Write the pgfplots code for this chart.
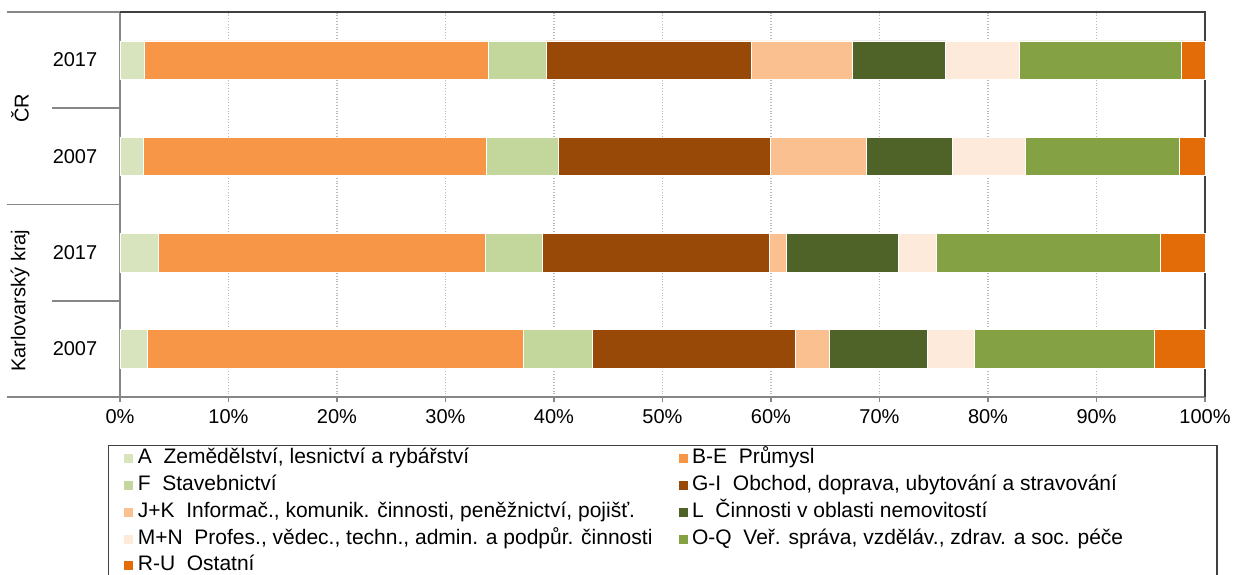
\documentclass[border=0pt]{standalone}
\usepackage{fontspec}
\setmainfont{Liberation Sans}
\usepackage{pgfplots}
\usepackage{pgfplotstable}
\pgfplotsset{compat=1.18}

\definecolor{cA}{HTML}{D7E4BD}
\definecolor{cBE}{HTML}{F79646}
\definecolor{cF}{HTML}{C3D69B}
\definecolor{cGI}{HTML}{984807}
\definecolor{cJK}{HTML}{FAC090}
\definecolor{cL}{HTML}{4F6228}
\definecolor{cMN}{HTML}{FDEADA}
\definecolor{cOQ}{HTML}{84A244}
\definecolor{cRU}{HTML}{E36C09}
\definecolor{axgray}{HTML}{868686}
\definecolor{boxgray}{HTML}{404040}

% y: 0 = Karlovarsky kraj 2007, 1 = KK 2017, 2 = CR 2007, 3 = CR 2017
\pgfplotstableread{
y  A    BE    F    GI    JK   L     MN   OQ    RU
0  2.5  34.7  6.3  18.7  3.2  9.0   4.3  16.6  4.7
1  3.5  30.2  5.2  20.9  1.6  10.3  3.5  20.7  4.1
2  2.1  31.7  6.6  19.5  8.9  7.9   6.7  14.2  2.4
3  2.2  31.7  5.4  18.9  9.3  8.6   6.8  14.9  2.2
}\datatable

\newcommand{\legtext}[1]{\makebox[262.5pt][l]{#1}}

\begin{document}
\begin{tikzpicture}
\begin{axis}[
    name=ax,
    scale only axis,
    width=542.5pt, height=192.5pt,
    xbar stacked, bar width=0.4,
    xmin=0, xmax=100, ymin=-0.5, ymax=3.5,
    xtick={0,10,...,100},
    xticklabel={\pgfmathprintnumber{\tick}\%},
    ytick=\empty,
    axis x line*=bottom, axis y line*=left,
    axis line style={axgray, line width=1pt, -},
    tick align=outside, major tick length=2.5pt,
    tick style={axgray, line width=0.8pt},
    xmajorgrids, grid style={densely dotted, gray!55, line width=0.7pt},
    tick label style={font=\fontsize{10}{12}\selectfont},
    /pgf/number format/assume math mode=true,
    clip=false,
    legend columns=2,
    legend style={at={(-0.01106,-0.1247)}, anchor=north west,
        draw=boxgray, line width=0.7pt,
        font=\fontsize{10.5}{12}\selectfont,
        cells={anchor=west}, row sep=0.7pt,
        /tikz/every even column/.append style={column sep=0pt},
        inner xsep=0pt, inner ysep=0pt,
        nodes={inner xsep=0pt, inner ysep=1.5pt, text height=7.5pt, text depth=2.2pt}},
    legend image code/.code={
        \path (-7.35pt,0) (7pt,0);
        \fill[#1] (0pt,-2.5pt) rectangle (5pt,2.5pt);},
    every axis plot/.append style={draw=white, line width=0.25pt},
]
\addplot[fill=cA]  table[x=A,  y=y] \datatable; \addlegendentry{\legtext{A\ \ Zemědělství, lesnictví a rybářství}}
\addplot[fill=cBE] table[x=BE, y=y] \datatable; \addlegendentry{\legtext{B-E\ \ Průmysl}}
\addplot[fill=cF]  table[x=F,  y=y] \datatable; \addlegendentry{\legtext{F\ \ Stavebnictví}}
\addplot[fill=cGI] table[x=GI, y=y] \datatable; \addlegendentry{\legtext{G-I\ \ Obchod, doprava, ubytování a stravování}}
\addplot[fill=cJK] table[x=JK, y=y] \datatable; \addlegendentry{\legtext{J+K\ \ Informač., komunik. činnosti, peněžnictví, pojišť.}}
\addplot[fill=cL]  table[x=L,  y=y] \datatable; \addlegendentry{\legtext{L\ \ Činnosti v oblasti nemovitostí}}
\addplot[fill=cMN] table[x=MN, y=y] \datatable; \addlegendentry{\legtext{M+N\ \ Profes., vědec., techn., admin. a podpůr. činnosti}}
\addplot[fill=cOQ] table[x=OQ, y=y] \datatable; \addlegendentry{\legtext{O-Q\ \ Veř. správa, vzděláv., zdrav. a soc. péče}}
\addplot[fill=cRU] table[x=RU, y=y] \datatable; \addlegendentry{\legtext{R-U\ \ Ostatní}}

% top and right border
\draw[boxgray, line width=0.8pt] (rel axis cs:0,1) -- (rel axis cs:1,1) -- (rel axis cs:1,0);
% category separators on the left
\draw[axgray, line width=0.8pt] ([xshift=-56.5pt]axis cs:0,3.5) -- (axis cs:0,3.5);
\draw[axgray, line width=0.8pt] ([xshift=-56.5pt]axis cs:0,1.5) -- (axis cs:0,1.5);
\draw[axgray, line width=0.8pt] ([xshift=-56.5pt]axis cs:0,-0.5) -- (axis cs:0,-0.5);
\draw[axgray, line width=0.8pt] ([xshift=-34pt]axis cs:0,2.5) -- (axis cs:0,2.5);
\draw[axgray, line width=0.8pt] ([xshift=-34pt]axis cs:0,0.5) -- (axis cs:0,0.5);
% year labels
\node[font=\fontsize{10}{12}\selectfont] at ([xshift=-22.5pt]axis cs:0,3) {2017};
\node[font=\fontsize{10}{12}\selectfont] at ([xshift=-22.5pt]axis cs:0,2) {2007};
\node[font=\fontsize{10}{12}\selectfont] at ([xshift=-22.5pt]axis cs:0,1) {2017};
\node[font=\fontsize{10}{12}\selectfont] at ([xshift=-22.5pt]axis cs:0,0) {2007};
% group labels
\node[font=\fontsize{10}{12}\selectfont, rotate=90] at ([xshift=-50pt]axis cs:0,2.5) {ČR};
\node[font=\fontsize{10}{12}\selectfont, rotate=90] at ([xshift=-50pt]axis cs:0,0.5) {Karlovarský kraj};
\end{axis}
\pgfresetboundingbox
\path[use as bounding box] ([shift={(-60pt,-89pt)}]ax.south west) rectangle ([shift={(14.5pt,6pt)}]ax.north east);
\end{tikzpicture}
\end{document}
